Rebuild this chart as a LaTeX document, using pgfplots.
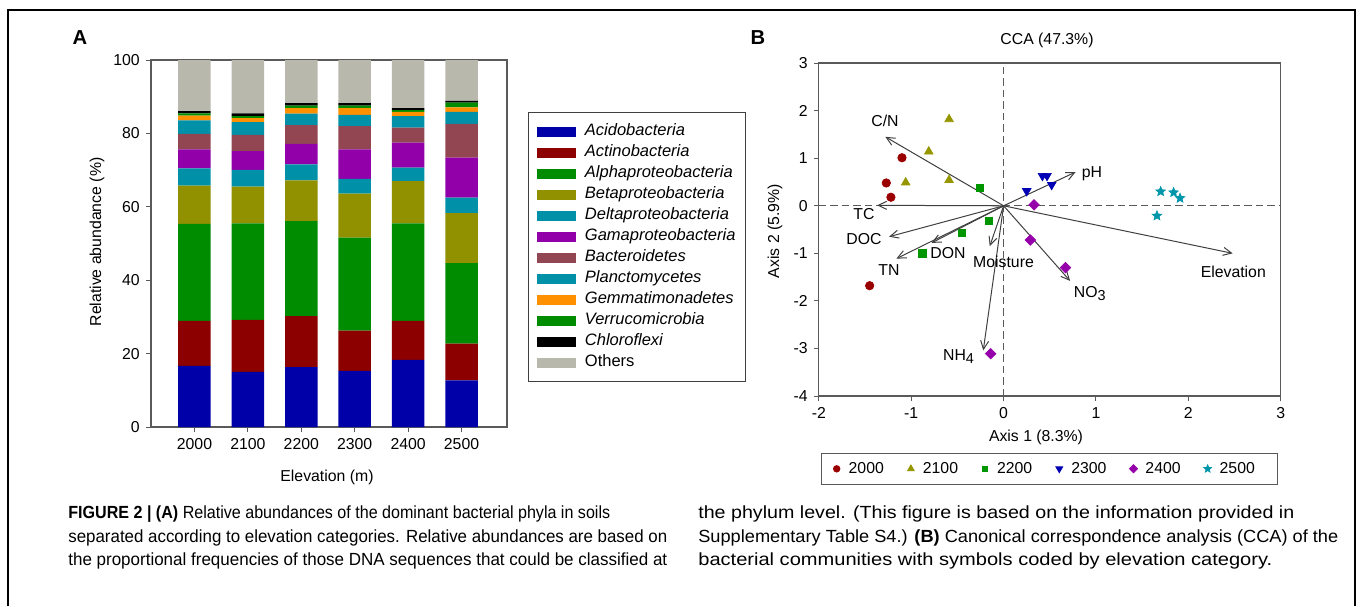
\documentclass[border=0pt]{standalone}
\usepackage{fontspec}
\setmainfont{Liberation Sans}
\usepackage{graphicx}
\usepackage{pgfplots}
\pgfplotsset{compat=1.18}
\usetikzlibrary{arrows.meta}

\definecolor{cAcido}{RGB}{0,0,168}
\definecolor{cActino}{RGB}{140,0,0}
\definecolor{cAlpha}{RGB}{0,140,0}
\definecolor{cBeta}{RGB}{145,145,0}
\definecolor{cDelta}{RGB}{0,145,168}
\definecolor{cGama}{RGB}{145,0,168}
\definecolor{cBact}{RGB}{145,70,82}
\definecolor{cPlanc}{RGB}{0,145,168}
\definecolor{cGemma}{RGB}{255,145,0}
\definecolor{cVerru}{RGB}{0,140,0}
\definecolor{cChloro}{RGB}{0,0,0}
\definecolor{cOther}{RGB}{184,184,172}
\definecolor{axgray}{RGB}{90,90,90}
\definecolor{e2000}{RGB}{155,0,0}
\definecolor{e2100}{RGB}{150,150,0}
\definecolor{e2200}{RGB}{0,150,0}
\definecolor{e2300}{RGB}{0,0,180}
\definecolor{e2400}{RGB}{150,0,170}
\definecolor{e2500}{RGB}{0,150,170}

% filled five-pointed star
\pgfdeclareplotmark{fstar}{%
  \pgfpathmoveto{\pgfpointpolar{90}{\pgfplotmarksize}}%
  \pgfpathlineto{\pgfpointpolar{126}{0.45\pgfplotmarksize}}%
  \pgfpathlineto{\pgfpointpolar{162}{\pgfplotmarksize}}%
  \pgfpathlineto{\pgfpointpolar{198}{0.45\pgfplotmarksize}}%
  \pgfpathlineto{\pgfpointpolar{234}{\pgfplotmarksize}}%
  \pgfpathlineto{\pgfpointpolar{270}{0.45\pgfplotmarksize}}%
  \pgfpathlineto{\pgfpointpolar{306}{\pgfplotmarksize}}%
  \pgfpathlineto{\pgfpointpolar{342}{0.45\pgfplotmarksize}}%
  \pgfpathlineto{\pgfpointpolar{18}{\pgfplotmarksize}}%
  \pgfpathlineto{\pgfpointpolar{54}{0.45\pgfplotmarksize}}%
  \pgfpathclose\pgfusepathqfillstroke}

\newcommand{\lbl}{\fontsize{9}{10.5}\selectfont}
\newcommand{\capf}{\fontsize{10}{12}\selectfont}
% caption lines stretched to the widths they take in the figure
\newcommand{\capline}[2]{\resizebox{#1}{\height}{#2}}

\begin{document}
\begin{tikzpicture}[x=0.02cm,y=0.02cm]
\useasboundingbox (0,0) rectangle (1362,606);
\draw[line width=0.04cm] (8,0) -- (8,596) -- (1355,596) -- (1355,0);

% ---------------- panel A: stacked bars
\begin{axis}[
  at={(3.02cm,3.58cm)}, anchor=south west,
  scale only axis, width=7.12cm, height=7.34cm,
  ybar stacked, bar width=0.65cm,
  xmin=-0.815, xmax=5.85, ymin=0, ymax=100,
  xtick={0,...,5}, xticklabels={2000,2100,2200,2300,2400,2500},
  ytick={0,20,...,100},
  tick pos=left, tick align=outside, major tick length=0.1cm,
  axis line style={draw=axgray, line width=0.025cm},
  tick style={draw=axgray, line width=0.02cm},
  tick label style={font=\lbl},
  /pgf/number format/assume math mode=true,
  legend style={at={(1.059,0.858)}, anchor=north west,
    draw=black!75, line width=0.02cm, font=\fontsize{9.4}{11}\selectfont,
    inner xsep=0.13cm, inner ysep=0.17cm,
    nodes={inner sep=0.07cm, text height=0.22cm, text depth=0.06cm}},
  legend cell align=left,
  legend image code/.code={\path (0cm,0cm) (0.93cm,0cm); \fill[#1,draw=none] (0.05cm,-0.1cm) rectangle (0.83cm,0.1cm);},
]
\addplot[fill=cAcido, draw=none] coordinates {(0,16.7) (1,15.0) (2,16.3) (3,15.3) (4,18.3) (5,12.7)};
\addlegendentry{\textit{Acidobacteria}}
\addplot[fill=cActino, draw=none] coordinates {(0,12.2) (1,14.2) (2,13.9) (3,11.0) (4,10.6) (5,10.0)};
\addlegendentry{\textit{Actinobacteria}}
\addplot[fill=cAlpha, draw=none] coordinates {(0,26.5) (1,26.3) (2,25.9) (3,25.3) (4,26.6) (5,22.0)};
\addlegendentry{\textit{Alphaproteobacteria}}
\addplot[fill=cBeta, draw=none] coordinates {(0,10.4) (1,10.0) (2,11.1) (3,12.0) (4,11.5) (5,13.6)};
\addlegendentry{\textit{Betaproteobacteria}}
\addplot[fill=cDelta, draw=none] coordinates {(0,4.7) (1,4.6) (2,4.4) (3,4.0) (4,3.7) (5,4.2)};
\addlegendentry{\textit{Deltaproteobacteria}}
\addplot[fill=cGama, draw=none] coordinates {(0,5.2) (1,5.1) (2,5.6) (3,8.1) (4,6.8) (5,10.9)};
\addlegendentry{\textit{Gamaproteobacteria}}
\addplot[fill=cBact, draw=none] coordinates {(0,4.2) (1,4.4) (2,5.1) (3,6.3) (4,4.1) (5,9.2)};
\addlegendentry{\textit{Bacteroidetes}}
\addplot[fill=cPlanc, draw=none] coordinates {(0,3.7) (1,3.5) (2,3.1) (3,3.1) (4,3.1) (5,3.3)};
\addlegendentry{\textit{Planctomycetes}}
\addplot[fill=cGemma, draw=none] coordinates {(0,1.3) (1,1.1) (2,1.5) (3,1.8) (4,1.2) (5,1.2)};
\addlegendentry{\textit{Gemmatimonadetes}}
\addplot[fill=cVerru, draw=none] coordinates {(0,0.6) (1,0.5) (2,0.7) (3,0.7) (4,0.5) (5,1.3)};
\addlegendentry{\textit{Verrucomicrobia}}
\addplot[fill=cChloro, draw=none] coordinates {(0,0.6) (1,0.8) (2,0.7) (3,0.7) (4,0.5) (5,0.5)};
\addlegendentry{\textit{Chloroflexi}}
\addplot[fill=cOther, draw=none] coordinates {(0,13.9) (1,14.5) (2,11.7) (3,11.7) (4,13.1) (5,11.1)};
\addlegendentry{Others}
\end{axis}

\node[font=\fontsize{11.5}{13}\selectfont\bfseries] at (80,568) {A};
\node[font=\lbl, rotate=90] at (97,364) {Relative abundance (\%)};
\node[font=\lbl] at (327,129) {Elevation (m)};

% ---------------- panel B: CCA
\begin{axis}[
  at={(16.38cm,4.2cm)}, anchor=south west,
  scale only axis, width=9.24cm, height=6.66cm,
  xmin=-2, xmax=3, ymin=-4, ymax=3,
  xtick={-2,...,3}, ytick={-4,...,3},
  tick pos=left, tick align=outside, major tick length=0.1cm,
  axis line style={draw=axgray, line width=0.025cm},
  tick style={draw=axgray, line width=0.02cm},
  tick label style={font=\lbl},
  /pgf/number format/assume math mode=true,
  clip=false,
  legend columns=6,
  legend style={at={(0.004,-0.171)}, anchor=north west,
    draw=axgray, line width=0.02cm, font=\lbl,
    inner xsep=0.12cm, inner ysep=0.1cm,
    /tikz/every even column/.append style={column sep=0.28cm}},
  legend image code/.code={\path (0cm,0cm) (0.34cm,0cm); \draw[mark repeat=2,mark phase=2,#1] plot coordinates {(0.08cm,0cm) (0.18cm,0cm) (0.28cm,0cm)};},
  legend image post style={/tikz/every mark/.append style={scale=0.75}},
]
\draw[axgray, dashed, dash pattern=on 0.15cm off 0.08cm, line width=0.02cm] (axis cs:-2,0) -- (axis cs:3,0);
\draw[axgray, dashed, dash pattern=on 0.15cm off 0.08cm, line width=0.02cm] (axis cs:0,-4) -- (axis cs:0,3);

\addplot[only marks, color=e2000, mark=*, mark size=2.4pt] coordinates {(-1.10,1.01) (-1.27,0.48) (-1.22,0.18) (-1.45,-1.68)};
\addlegendentry{2000}
\addplot[only marks, color=e2100, mark=triangle*, mark size=2.8pt] coordinates {(-0.59,1.82) (-0.81,1.14) (-1.06,0.49) (-0.59,0.54)};
\addlegendentry{2100}
\addplot[only marks, color=e2200, mark=square*, mark size=2.1pt] coordinates {(-0.26,0.38) (-0.16,-0.32) (-0.45,-0.57) (-0.88,-1.00)};
\addlegendentry{2200}
\addplot[only marks, color=e2300, mark=triangle*, mark size=2.8pt, mark options={rotate=180}] coordinates {(0.25,0.31) (0.42,0.63) (0.47,0.63) (0.52,0.44)};
\addlegendentry{2300}
\addplot[only marks, color=e2400, mark=square*, mark size=2.1pt, mark options={rotate=45}] coordinates {(0.33,0.02) (0.29,-0.72) (0.67,-1.30) (-0.14,-3.11)};
\addlegendentry{2400}
\addplot[only marks, color=e2500, mark=fstar, mark size=2.8pt] coordinates {(1.70,0.30) (1.84,0.28) (1.91,0.16) (1.66,-0.21)};
\addlegendentry{2500\hspace*{0.26cm}}

% environmental vectors
\pgfplotsset{every axis plot/.append style={forget plot}}
\addplot[black!75, line width=0.02cm, -{Straight Barb[length=0.17cm,width=0.16cm]}] coordinates {(0,0) (-1.28,1.45)};
\addplot[black!75, line width=0.02cm, -{Straight Barb[length=0.17cm,width=0.16cm]}] coordinates {(0,0) (0.78,0.71)};
\addplot[black!75, line width=0.02cm, -{Straight Barb[length=0.17cm,width=0.16cm]}] coordinates {(0,0) (-1.37,0.01)};
\addplot[black!75, line width=0.02cm, -{Straight Barb[length=0.17cm,width=0.16cm]}] coordinates {(0,0) (-1.24,-0.65)};
\addplot[black!75, line width=0.02cm, -{Straight Barb[length=0.17cm,width=0.16cm]}] coordinates {(0,0) (-0.78,-0.78)};
\addplot[black!75, line width=0.02cm, -{Straight Barb[length=0.17cm,width=0.16cm]}] coordinates {(0,0) (-1.16,-1.11)};
\addplot[black!75, line width=0.02cm, -{Straight Barb[length=0.17cm,width=0.16cm]}] coordinates {(0,0) (-0.15,-0.85)};
\addplot[black!75, line width=0.02cm, -{Straight Barb[length=0.17cm,width=0.16cm]}] coordinates {(0,0) (-0.22,-3.04)};
\addplot[black!75, line width=0.02cm, -{Straight Barb[length=0.17cm,width=0.16cm]}] coordinates {(0,0) (0.72,-1.58)};
\addplot[black!75, line width=0.02cm, -{Straight Barb[length=0.17cm,width=0.16cm]}] coordinates {(0,0) (2.48,-1.00)};
\end{axis}

\begin{scope}[every node/.style={font=\lbl, anchor=base, inner sep=0pt}]
\node at (885,479) {C/N};
\node at (1092,428) {pH};
\node at (864,386) {TC};
\node at (864,361) {DOC};
\node at (948,348) {DON};
\node at (889,331) {TN};
\node at (1003.5,339) {Moisture};
\node at (958.5,246) {NH\raisebox{-0.45ex}{\fontsize{8.2}{9}\selectfont 4}};
\node at (1089.7,309) {NO\raisebox{-0.45ex}{\fontsize{8.2}{9}\selectfont 3}};
\node at (1233.3,329) {Elevation};
\node at (1047,561) {CCA (47.3\%)};
\node at (1036,165) {Axis 1 (8.3\%)};
\end{scope}
\node[font=\lbl, rotate=90] at (775,375) {Axis 2 (5.9\%)};
\node[font=\fontsize{11.5}{13}\selectfont\bfseries] at (758,568) {B};

% ---------------- caption
\begin{scope}[every node/.style={font=\capf, anchor=base west, inner sep=0pt}]
\node at (68,88) {\capline{10.84cm}{\textbf{FIGURE 2 | (A)} Relative abundances of the dominant bacterial phyla in soils}};
\node at (68,64) {\capline{11.98cm}{separated according to elevation categories. Relative abundances are based on}};
\node at (68,41) {\capline{11.98cm}{the proportional frequencies of those DNA sequences that could be classified at}};
\node at (698,88) {\capline{11.92cm}{the phylum level. (This figure is based on the information provided in}};
\node at (698,64) {\capline{12.8cm}{Supplementary Table S4.) \textbf{(B)} Canonical correspondence analysis (CCA) of the}};
\node at (698,41) {\capline{11.48cm}{bacterial communities with symbols coded by elevation category.}};
\end{scope}
\end{tikzpicture}
\end{document}
